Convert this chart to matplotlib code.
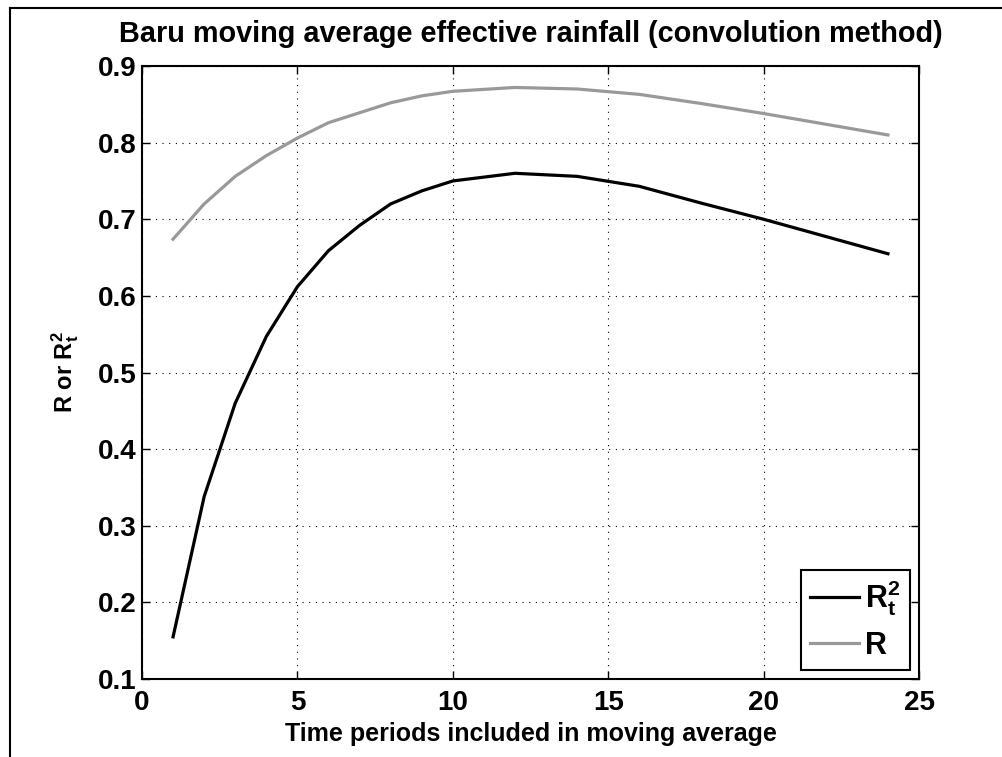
import matplotlib
matplotlib.use('Agg')
import matplotlib.pyplot as plt
from matplotlib.lines import Line2D

# values
periods = [1, 2, 3, 4, 5, 6, 7, 8, 9, 10, 12, 14, 16, 18, 20, 24]
rt2 = [0.155, 0.338, 0.460, 0.547, 0.612, 0.659, 0.692, 0.720, 0.737, 0.750,
       0.760, 0.756, 0.743, 0.721, 0.700, 0.655]
r = [0.674, 0.720, 0.756, 0.783, 0.806, 0.826, 0.839, 0.852, 0.861, 0.867,
     0.872, 0.870, 0.863, 0.851, 0.838, 0.810]
xticks = [0, 5, 10, 15, 20, 25]
yticks = [0.1, 0.2, 0.3, 0.4, 0.5, 0.6, 0.7, 0.8, 0.9]

plt.rcParams['font.family'] = ['Liberation Sans', 'DejaVu Sans']
plt.rcParams['font.weight'] = 'bold'
plt.rcParams['mathtext.fontset'] = 'custom'
plt.rcParams['mathtext.rm'] = 'Liberation Sans:bold'
plt.rcParams['mathtext.it'] = 'Liberation Sans:bold'
plt.rcParams['mathtext.bf'] = 'Liberation Sans:bold'

fig = plt.figure(figsize=(10.02, 7.57), dpi=100)
ax = fig.add_axes([0.1417, 0.103, 0.7755, 0.8098])

ax.plot(periods, rt2, color='k', lw=2.3, label=r'$\mathrm{R}_\mathrm{t}^\mathrm{2}$', solid_joinstyle='miter')
ax.plot(periods, r, color='#999999', lw=2.3, label='R', solid_joinstyle='miter')

ax.set_xlim(0, 25)
ax.set_ylim(0.1, 0.9)
ax.set_xticks(xticks)
ax.set_yticks(yticks)
ax.set_xticklabels([str(t) for t in xticks], fontsize=20, fontweight='bold')
ax.set_yticklabels(['%.1f' % t for t in yticks], fontsize=20, fontweight='bold')
ax.tick_params(direction='in', top=True, right=True, length=6, width=1, pad=8, colors='k')
ax.tick_params(axis='y', pad=4)
ax.grid(True, linestyle=(0, (1, 5)), color='k', lw=0.8)
for s in ax.spines.values():
    s.set_linewidth(1.5)

ax.set_title('Baru moving average effective rainfall (convolution method)',
             fontsize=20.8, fontweight='bold', pad=17)
ax.set_xlabel('Time periods included in moving average', fontsize=18, fontweight='bold', labelpad=4)
ax.set_ylabel(r'R or $\mathrm{R}_\mathrm{t}^\mathrm{2}$', fontsize=17, fontweight='bold', labelpad=12)

leg = ax.legend(loc='lower right', fontsize=22, frameon=True, fancybox=False,
                edgecolor='k', framealpha=1.0, handlelength=1.6, handletextpad=0.2,
                borderpad=0.3, borderaxespad=0.3, labelspacing=0.4)
leg.get_frame().set_linewidth(1.5)
for t in leg.get_texts():
    t.set_fontweight('bold')

# screenshot border on top and left
fig.add_artist(Line2D([0.01, 1.0], [0.989, 0.989], color='k', lw=1.5, transform=fig.transFigure))
fig.add_artist(Line2D([0.01, 0.01], [0.0, 0.989], color='k', lw=1.5, transform=fig.transFigure))

fig.savefig('out.png', dpi=100)
